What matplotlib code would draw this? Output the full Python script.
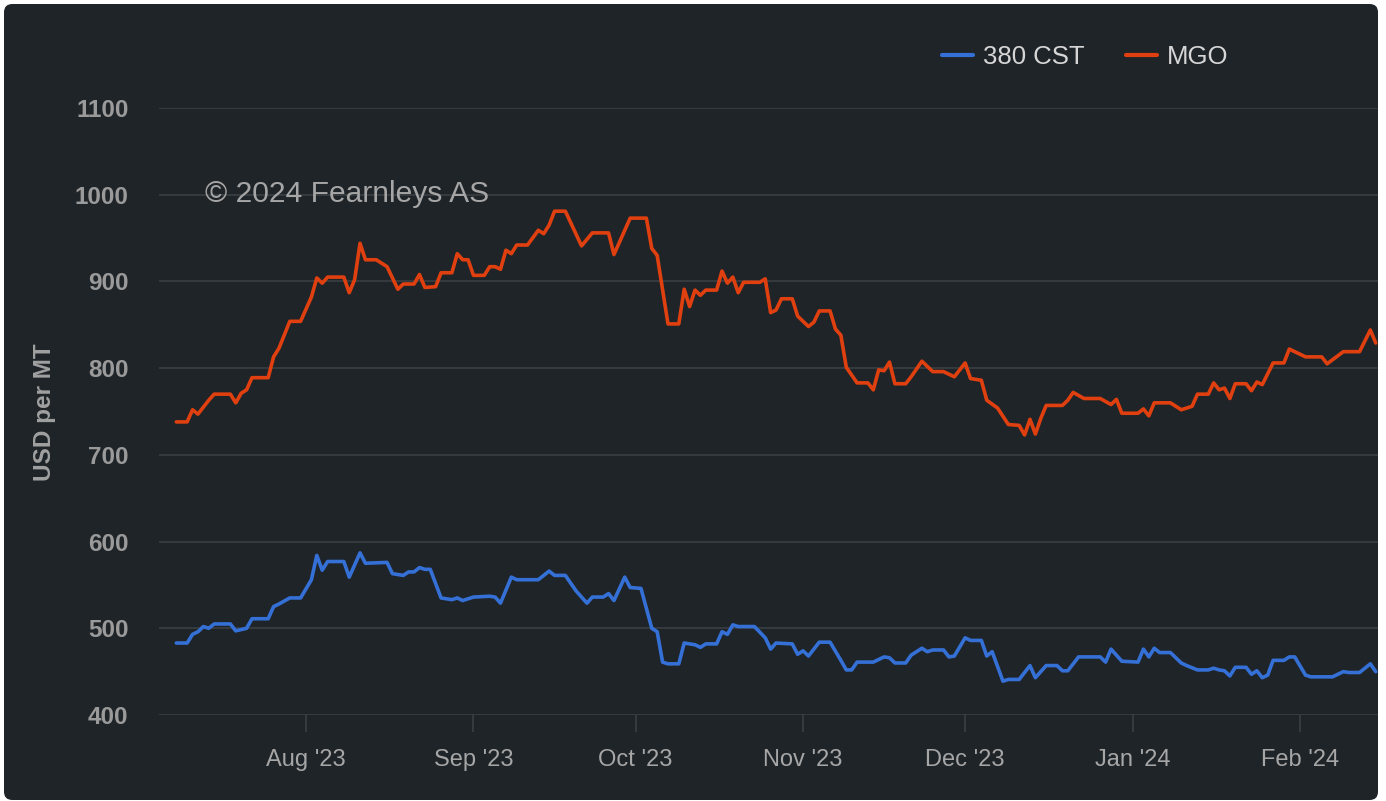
import pandas as pd
import matplotlib
matplotlib.use("Agg")
import matplotlib.pyplot as plt
import matplotlib.dates as mdates
from matplotlib.patches import FancyBboxPatch

plt.rcParams['font.family'] = ['Liberation Sans', 'DejaVu Sans']

# MGO (USD per MT)
mgo_dates = ['2023-07-08', '2023-07-10', '2023-07-11', '2023-07-12', '2023-07-14', '2023-07-15',
             '2023-07-18', '2023-07-19', '2023-07-20', '2023-07-21', '2023-07-22', '2023-07-25',
             '2023-07-26', '2023-07-27', '2023-07-29', '2023-07-31', '2023-08-02', '2023-08-03',
             '2023-08-04', '2023-08-05', '2023-08-08', '2023-08-09', '2023-08-10', '2023-08-11',
             '2023-08-12', '2023-08-14', '2023-08-16', '2023-08-18', '2023-08-19', '2023-08-21',
             '2023-08-22', '2023-08-23', '2023-08-25', '2023-08-26', '2023-08-28', '2023-08-29',
             '2023-08-30', '2023-08-31', '2023-09-01', '2023-09-03', '2023-09-04', '2023-09-05',
             '2023-09-06', '2023-09-07', '2023-09-08', '2023-09-09', '2023-09-11', '2023-09-13',
             '2023-09-14', '2023-09-15', '2023-09-16', '2023-09-18', '2023-09-21', '2023-09-23',
             '2023-09-26', '2023-09-27', '2023-09-30', '2023-10-03', '2023-10-04', '2023-10-05',
             '2023-10-07', '2023-10-09', '2023-10-10', '2023-10-11', '2023-10-12', '2023-10-13',
             '2023-10-14', '2023-10-16', '2023-10-17', '2023-10-18', '2023-10-19', '2023-10-20',
             '2023-10-21', '2023-10-24', '2023-10-25', '2023-10-26', '2023-10-27', '2023-10-28',
             '2023-10-30', '2023-10-31', '2023-11-02', '2023-11-03', '2023-11-04', '2023-11-06',
             '2023-11-07', '2023-11-08', '2023-11-09', '2023-11-11', '2023-11-13', '2023-11-14',
             '2023-11-15', '2023-11-16', '2023-11-17', '2023-11-18', '2023-11-20', '2023-11-21',
             '2023-11-23', '2023-11-25', '2023-11-27', '2023-11-29', '2023-12-01', '2023-12-02',
             '2023-12-04', '2023-12-05', '2023-12-07', '2023-12-09', '2023-12-11', '2023-12-12',
             '2023-12-13', '2023-12-14', '2023-12-15', '2023-12-16', '2023-12-19', '2023-12-20',
             '2023-12-21', '2023-12-23', '2023-12-26', '2023-12-28', '2023-12-29', '2023-12-30',
             '2024-01-02', '2024-01-03', '2024-01-04', '2024-01-05', '2024-01-08', '2024-01-10',
             '2024-01-12', '2024-01-13', '2024-01-15', '2024-01-16', '2024-01-17', '2024-01-18',
             '2024-01-19', '2024-01-20', '2024-01-22', '2024-01-23', '2024-01-24', '2024-01-25',
             '2024-01-27', '2024-01-29', '2024-01-30', '2024-02-02', '2024-02-05', '2024-02-06',
             '2024-02-09', '2024-02-12', '2024-02-14', '2024-02-15']
mgo_vals = [738, 738, 752, 747, 763, 770,
            770, 760, 771, 775, 789, 789,
            813, 823, 854, 854, 882, 904,
            898, 905, 905, 887, 902, 944,
            925, 925, 917, 891, 897, 897,
            908, 893, 894, 910, 910, 932,
            925, 925, 907, 907, 917, 917,
            914, 936, 932, 942, 942, 959,
            955, 965, 981, 981, 941, 956,
            956, 931, 973, 973, 938, 930,
            851, 851, 891, 871, 890, 884,
            890, 890, 912, 898, 905, 887,
            899, 899, 903, 864, 867, 880,
            880, 860, 848, 853, 866, 866,
            845, 838, 801, 783, 783, 775,
            798, 797, 807, 782, 782, 790,
            808, 796, 796, 790, 806, 788,
            786, 763, 754, 735, 734, 723,
            741, 724, 742, 757, 757, 763,
            772, 765, 765, 758, 764, 748,
            748, 753, 745, 760, 760, 752,
            756, 770, 770, 783, 775, 777,
            765, 782, 782, 774, 784, 781,
            806, 806, 822, 813, 813, 805,
            819, 819, 844, 829]

# 380 CST (USD per MT)
cst_dates = ['2023-07-08', '2023-07-10', '2023-07-11', '2023-07-12', '2023-07-13', '2023-07-14',
             '2023-07-15', '2023-07-18', '2023-07-19', '2023-07-21', '2023-07-22', '2023-07-25',
             '2023-07-26', '2023-07-27', '2023-07-29', '2023-07-31', '2023-08-02', '2023-08-03',
             '2023-08-04', '2023-08-05', '2023-08-08', '2023-08-09', '2023-08-11', '2023-08-12',
             '2023-08-16', '2023-08-17', '2023-08-19', '2023-08-20', '2023-08-21', '2023-08-22',
             '2023-08-23', '2023-08-24', '2023-08-26', '2023-08-28', '2023-08-29', '2023-08-30',
             '2023-09-01', '2023-09-04', '2023-09-05', '2023-09-06', '2023-09-08', '2023-09-09',
             '2023-09-13', '2023-09-15', '2023-09-16', '2023-09-18', '2023-09-20', '2023-09-22',
             '2023-09-23', '2023-09-25', '2023-09-26', '2023-09-27', '2023-09-29', '2023-09-30',
             '2023-10-02', '2023-10-04', '2023-10-05', '2023-10-06', '2023-10-07', '2023-10-09',
             '2023-10-10', '2023-10-12', '2023-10-13', '2023-10-14', '2023-10-16', '2023-10-17',
             '2023-10-18', '2023-10-19', '2023-10-20', '2023-10-23', '2023-10-25', '2023-10-26',
             '2023-10-27', '2023-10-30', '2023-10-31', '2023-11-01', '2023-11-02', '2023-11-04',
             '2023-11-06', '2023-11-08', '2023-11-09', '2023-11-10', '2023-11-11', '2023-11-14',
             '2023-11-16', '2023-11-17', '2023-11-18', '2023-11-20', '2023-11-21', '2023-11-23',
             '2023-11-24', '2023-11-25', '2023-11-27', '2023-11-28', '2023-11-29', '2023-12-01',
             '2023-12-02', '2023-12-04', '2023-12-05', '2023-12-06', '2023-12-08', '2023-12-09',
             '2023-12-11', '2023-12-13', '2023-12-14', '2023-12-16', '2023-12-18', '2023-12-19',
             '2023-12-20', '2023-12-22', '2023-12-26', '2023-12-27', '2023-12-28', '2023-12-30',
             '2024-01-02', '2024-01-03', '2024-01-04', '2024-01-05', '2024-01-06', '2024-01-08',
             '2024-01-10', '2024-01-11', '2024-01-13', '2024-01-15', '2024-01-16', '2024-01-17',
             '2024-01-18', '2024-01-19', '2024-01-20', '2024-01-22', '2024-01-23', '2024-01-24',
             '2024-01-25', '2024-01-26', '2024-01-27', '2024-01-29', '2024-01-30', '2024-01-31',
             '2024-02-02', '2024-02-03', '2024-02-07', '2024-02-09', '2024-02-10', '2024-02-12',
             '2024-02-14', '2024-02-15']
cst_vals = [483, 483, 493, 496, 502, 500,
            505, 505, 497, 500, 511, 511,
            525, 528, 535, 535, 556, 584,
            567, 577, 577, 559, 587, 575,
            576, 563, 561, 565, 565, 570,
            568, 568, 535, 533, 535, 532,
            536, 537, 536, 529, 559, 556,
            556, 566, 561, 561, 543, 529,
            536, 536, 540, 532, 559, 547,
            546, 500, 496, 461, 459, 459,
            483, 481, 478, 482, 482, 496,
            493, 504, 502, 502, 489, 476,
            483, 482, 470, 474, 468, 484,
            484, 463, 452, 452, 461, 461,
            467, 466, 460, 460, 469, 477,
            473, 475, 475, 467, 468, 489,
            486, 486, 468, 473, 439, 441,
            441, 457, 443, 457, 457, 451,
            451, 467, 467, 461, 476, 462,
            461, 476, 467, 477, 472, 472,
            460, 457, 452, 452, 454, 452,
            451, 445, 455, 455, 447, 451,
            443, 446, 463, 463, 467, 467,
            446, 444, 444, 450, 449, 449,
            459, 450]

y_ticks = [400, 500, 600, 700, 800, 900, 1000, 1100]

BG = '#1f2428'
GRID = '#3a3f43'
BLUE = '#3470d6'
RED = '#e0400f'

W, H = 1386, 801
fig = plt.figure(figsize=(W / 100, H / 100), dpi=100, facecolor='white')

# dark rounded panel behind the chart
panel = FancyBboxPatch((4 / W, 1 - 800 / H), (1378 - 4) / W, (800 - 4) / H,
                       boxstyle='round,pad=0,rounding_size=0.006',
                       mutation_aspect=W / H, transform=fig.transFigure,
                       facecolor=BG, edgecolor='none', zorder=-5)
fig.patches.append(panel)

ax = fig.add_axes([159 / W, 1 - 715 / H, (1378 - 159) / W, (715 - 108) / H])
ax.set_facecolor('none')
ax.set_zorder(2)

ax.plot(pd.to_datetime(cst_dates), cst_vals, color=BLUE, lw=2.6, label='380 CST',
        solid_joinstyle='round', solid_capstyle='round', zorder=3)
ax.plot(pd.to_datetime(mgo_dates), mgo_vals, color=RED, lw=2.6, label='MGO',
        solid_joinstyle='round', solid_capstyle='round', zorder=3)

ax.set_ylim(400, 1100)
ax.set_xlim(pd.Timestamp('2023-07-04 19:00'), pd.Timestamp('2024-02-15 10:00'))
ax.set_yticks(y_ticks)
ax.yaxis.grid(True, color=GRID, lw=1.2)
ax.set_axisbelow(True)
for s in ax.spines.values():
    s.set_visible(False)

ax.xaxis.set_major_locator(mdates.MonthLocator())
ax.xaxis.set_major_formatter(mdates.DateFormatter("%b '%y"))
ax.tick_params(axis='x', colors=GRID, length=12.5, width=1.2, pad=12,
               labelcolor='#a6a6a6', labelsize=17)
ax.tick_params(axis='y', length=0, pad=22, labelcolor='#9a9a9a', labelsize=17.5)
for lab in ax.get_yticklabels():
    lab.set_fontweight('bold')

fig.text(45 / W, 1 - 412 / H, 'USD per MT', rotation=90, ha='center', va='center',
         color='#a0a0a0', fontsize=17.5, fontweight='bold', zorder=3)

fig.text(205 / W, 1 - 194 / H, '\u00a9 2024 Fearnleys AS', ha='left', va='center',
         color='#a6a6a6', fontsize=21.6, zorder=3)

leg = fig.legend(loc='center left', bbox_to_anchor=(942 / W, 1 - 57 / H), ncol=2,
                 frameon=False, fontsize=18.5, handlelength=1.2, handletextpad=0.4,
                 columnspacing=1.6, borderpad=0, borderaxespad=0)
leg.set_zorder(3)
for t in leg.get_texts():
    t.set_color('#d6d6d6')
for h in leg.get_lines():
    h.set_linewidth(3)

fig.savefig('out.png', dpi=100, facecolor='white')
